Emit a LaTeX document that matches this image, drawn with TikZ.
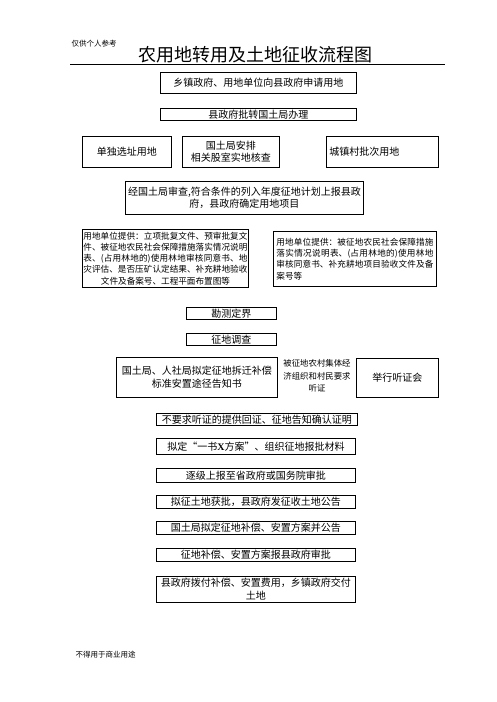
\documentclass[tikz,border=0pt]{standalone}
\usepackage{fontspec}
\setmainfont{Liberation Serif}
\newfontfamily\cjk{Noto Sans CJK SC}
\newcommand\jzbox[2]{\parbox{#1}{\XeTeXlinebreaklocale "zh"\XeTeXlinebreakskip=0pt plus 3pt\relax #2}}
\begin{document}
\begin{tikzpicture}[x=1pt,y=-1pt]
\tikzset{
 bx/.style={draw, line width=0.9pt, inner sep=0pt, anchor=north west, align=center},
 fa/.style={font=\cjk\fontsize{10}{12}\selectfont},
 fb/.style={font=\cjk\fontsize{8.6}{11.2}\selectfont},
 note/.style={font=\cjk\fontsize{7.5}{9}\selectfont, anchor=west},
}
\useasboundingbox[fill=white] (0,0) rectangle (496,702);
\node[note] (ref) at (68,44) {仅供个人参考};
\node[font=\cjk\fontsize{18}{20}\selectfont] (title) at (255,55) {农用地转用及土地征收流程图};
\coordinate (hl) at (70,64);
\coordinate (hr) at (445,64);
\draw[line width=0.8pt] (hl) -- (hr);

\node[bx,fa,minimum width=196pt,minimum height=21pt] (b1) at (160,72) {乡镇政府、用地单位向县政府申请用地};
\node[bx,fa,minimum width=196pt,minimum height=12pt] (b2) at (160,108) {县政府批转国土局办理};
\node[bx,fa,minimum width=89pt,minimum height=31pt] (b3a) at (82,136) {单独选址用地};
\node[bx,fa,minimum width=97pt,minimum height=31pt] (b3b) at (182,136) {国土局安排\\相关股室实地核查};
\node[bx,fa,minimum width=112pt,minimum height=31pt,text width=106pt,align=left] (b3c) at (326,136) {城镇村批次用地};
\node[bx,fa,minimum width=238pt,minimum height=33pt] (b4) at (125,181) {经国土局审查,符合条件的列入年度征地计划上报县政\\府，县政府确定用地项目};
\node[bx,fb,minimum width=166pt,minimum height=58pt] (b5a) at (82,229) {\jzbox{164pt}{\parfillskip=0pt
用地单位提供：立项批复文件、预审批复文\linebreak
件、被征地农民社会保障措施落实情况说明\linebreak
表、(占用林地的)使用林地审核同意书、地\linebreak
灾评估、是否压矿认定结果、补充耕地验收\par
\makebox[\linewidth]{文件及备案号、工程平面布置图等}}};
\node[bx,fb,minimum width=163pt,minimum height=55pt] (b5b) at (273,231) {\jzbox{157pt}{用地单位提供：被征地农民社会保障措施\linebreak
落实情况说明表、(占用林地的)使用林地\linebreak
审核同意书、补充耕地项目验收文件及备\linebreak
案号等}};
\node[bx,fa,minimum width=90pt,minimum height=12pt] (b6) at (186,307) {勘测定界};
\node[bx,fa,minimum width=90pt,minimum height=12pt] (b7) at (186,333) {征地调查};
\node[bx,font=\cjk\fontsize{10}{13}\selectfont,minimum width=161pt,minimum height=40pt] (b8a) at (116,357) {国土局、人社局拟定征地拆迁补偿\\标准安置途径告知书};
\node[font=\cjk\fontsize{8.4}{12.5}\selectfont,align=center,inner sep=0pt] (b8b) at (317,376) {被征地农村集体经\\济组织和村民要求\\听证};
\node[bx,fa,minimum width=82pt,minimum height=39pt] (b8c) at (356,358) {举行听证会};
\node[bx,fa,minimum width=201pt,minimum height=12pt] (b9) at (156,413) {不要求听证的提供回证、征地告知确认证明};
\node[bx,fa,minimum width=199pt,minimum height=16pt] (b10) at (156,438) {拟定“一书{\rmfamily\bfseries X}方案”、组织征地报批材料};
\node[bx,fa,minimum width=199pt,minimum height=14pt] (b11) at (156,468) {逐级上报至省政府或国务院审批};
\node[bx,fa,minimum width=199pt,minimum height=13pt] (b12) at (156,495) {拟征土地获批，县政府发征收土地公告};
\node[bx,fa,minimum width=199pt,minimum height=13pt] (b13) at (156,521) {国土局拟定征地补偿、安置方案并公告};
\node[bx,fa,minimum width=199pt,minimum height=13pt] (b14) at (156,548) {征地补偿、安置方案报县政府审批};
\node[bx,font=\cjk\fontsize{10}{13}\selectfont,minimum width=199pt,minimum height=26pt] (b15) at (156,576) {县政府拨付补偿、安置费用，乡镇政府交付\\土地};
\node[note] (foot) at (72,655) {不得用于商业用途};
\end{tikzpicture}
\end{document}
